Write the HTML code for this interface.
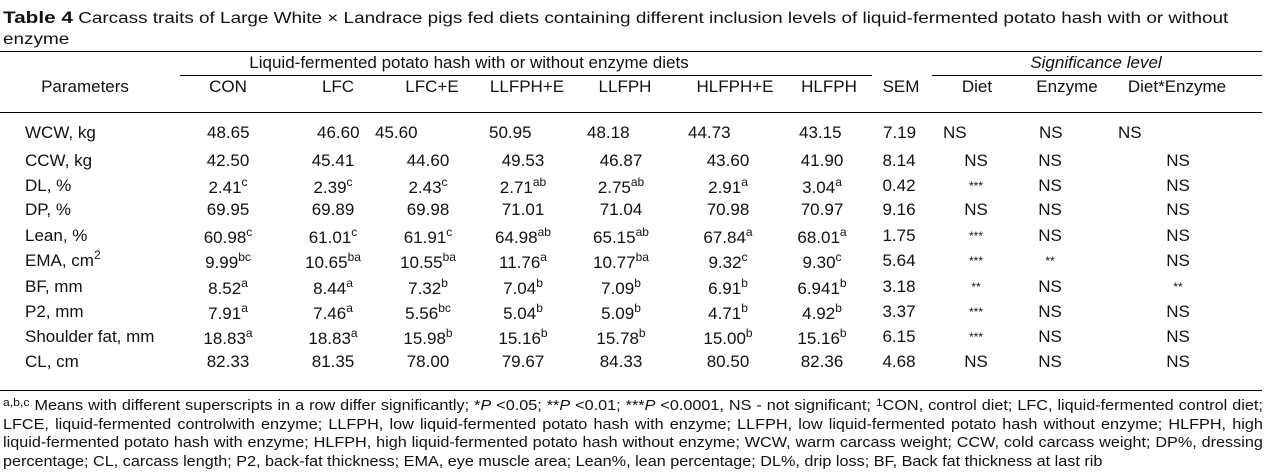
<!DOCTYPE html>
<html><head><meta charset="utf-8">
<style>
body{margin:0;width:1272px;height:473px;background:#fff;position:relative;overflow:hidden;font-family:"Liberation Sans",Arial,sans-serif;color:#111}
.a{position:absolute;white-space:nowrap;font-size:17px;line-height:18px}
.c{transform:translateX(-50%)}
.ln{position:absolute;height:1px;background:#000}
sup{font-size:12px;vertical-align:7px;line-height:0}
.sm{font-size:11px;vertical-align:4px}
.ttl{transform:scaleX(1.22);transform-origin:left top;font-size:15.5px}
#foot{position:absolute;left:3px;top:394px;width:1135px;font-size:14.6px;line-height:18.6px;text-align:justify;text-align-last:left;transform:scaleX(1.11);transform-origin:left top}
</style></head><body>
<div class="a ttl" style="left:3px;top:9px"><b style="font-size:17px">Table 4</b> Carcass traits of Large White × Landrace pigs fed diets containing different inclusion levels of liquid-fermented potato hash with or without</div>
<div class="a ttl" style="left:3px;top:31px">enzyme</div>
<div class="ln" style="left:0;top:51px;width:1262px"></div>
<div class="ln" style="left:180px;top:75px;width:692px"></div>
<div class="ln" style="left:932px;top:75px;width:330px"></div>
<div class="ln" style="left:0;top:112px;width:1262px"></div>
<div class="ln" style="left:0;top:390px;width:1262px"></div>
<div class="a c" style="left:469px;top:54px">Liquid-fermented potato hash with or without enzyme diets</div>
<div class="a c" style="left:1096px;top:54px;font-style:italic">Significance level</div>
<div class="a c" style="left:85px;top:78px">Parameters</div>
<div id="tbl"></div>
<div id="foot"><span class="sm">a,b,c</span> Means with different superscripts in a row differ significantly; *<i>P</i> &lt;0.05; **<i>P</i> &lt;0.01; ***<i>P</i> &lt;0.0001, NS - not significant; <span class="sm">1</span>CON, control diet; LFC, liquid-fermented control diet; LFCE, liquid-fermented controlwith enzyme; LLFPH, low liquid-fermented potato hash with enzyme; LLFPH, low liquid-fermented potato hash without enzyme; HLFPH, high liquid-fermented potato hash with enzyme; HLFPH, high liquid-fermented potato hash without enzyme; WCW, warm carcass weight; CCW, cold carcass weight; DP%, dressing percentage; CL, carcass length; P2, back-fat thickness; EMA, eye muscle area; Lean%, lean percentage; DL%, drip loss; BF, Back fat thickness at last rib</div>
<script>
const headers=["CON","LFC","LFC+E","LLFPH+E","LLFPH","HLFPH+E","HLFPH","SEM","Diet","Enzyme","Diet*Enzyme"];
const headerX=[228,338,432,527,625,735,829,901,977,1067,1177];
const colX=[228,333,428,523,621,728,822,899,976,1050,1178];
const params=["WCW, kg","CCW, kg","DL, %","DP, %","Lean, %","EMA, cm<sup>2</sup>","BF, mm","P2, mm","Shoulder fat, mm","CL, cm"];
const rowY=[124,152,177,201,227,252,278,303,328,353];
const cells=[
["48.65","46.60","45.60","50.95","48.18","44.73","43.15","7.19","NS","NS","NS"],
["42.50","45.41","44.60","49.53","46.87","43.60","41.90","8.14","NS","NS","NS"],
["2.41|c","2.39|c","2.43|c","2.71|ab","2.75|ab","2.91|a","3.04|a","0.42","***","NS","NS"],
["69.95","69.89","69.98","71.01","71.04","70.98","70.97","9.16","NS","NS","NS"],
["60.98|c","61.01|c","61.91|c","64.98|ab","65.15|ab","67.84|a","68.01|a","1.75","***","NS","NS"],
["9.99|bc","10.65|ba","10.55|ba","11.76|a","10.77|ba","9.32|c","9.30|c","5.64","***","**","NS"],
["8.52|a","8.44|a","7.32|b","7.04|b","7.09|b","6.91|b","6.941|b","3.18","**","NS","**"],
["7.91|a","7.46|a","5.56|bc","5.04|b","5.09|b","4.71|b","4.92|b","3.37","***","NS","NS"],
["18.83|a","18.83|a","15.98|b","15.16|b","15.78|b","15.00|b","15.16|b","6.15","***","NS","NS"],
["82.33","81.35","78.00","79.67","84.33","80.50","82.36","4.68","NS","NS","NS"]];
const wcwLeft=[207,317,375,489,587,688,799,883,943,1039,1118];
const T=document.getElementById('tbl');
headers.forEach((h,i)=>{const d=document.createElement('div');d.className='a c';d.style.left=headerX[i]+'px';d.style.top='78px';d.textContent=h;


T.appendChild(d);});
params.forEach((p,r)=>{const d=document.createElement('div');d.className='a';d.style.left='25px';d.style.top=rowY[r]+'px';d.innerHTML=p;


T.appendChild(d);
cells[r].forEach((v,c)=>{const e=document.createElement('div');const [n,s]=v.split('|');
e.innerHTML=n+(s?'<sup>'+s+'</sup>':'');
if(n.startsWith('*')){e.style.fontSize='12px';}
e.className='a';
if(r===0){e.style.left=wcwLeft[c]+'px';}else{e.classList.add('c');e.style.left=colX[c]+'px';}
e.style.top=(rowY[r]+(s&&r>0?2:0))+'px';


T.appendChild(e);});});
</script>
</body></html>
